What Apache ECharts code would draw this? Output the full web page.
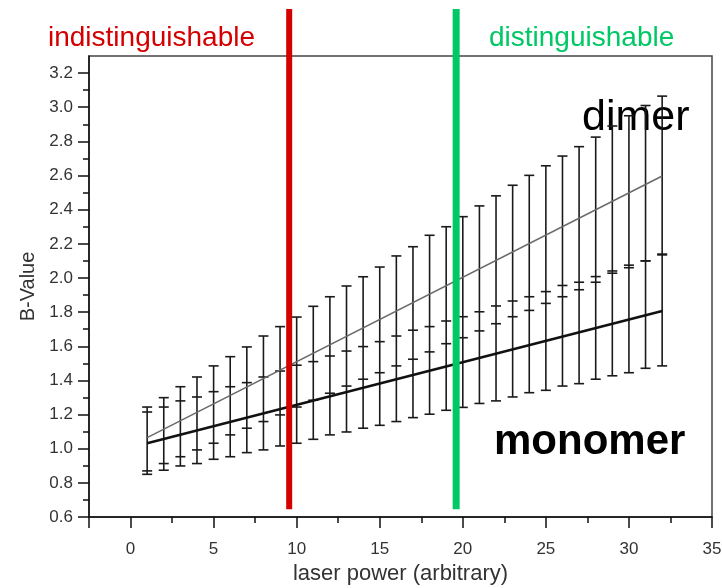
<!DOCTYPE html>
<html>
<head>
<meta charset="utf-8">
<script src="https://cdn.jsdelivr.net/npm/echarts@6/dist/echarts.min.js"></script>
<style>
  html, body { margin: 0; padding: 0; background: #fff; }
  #main { width: 722px; height: 588px; }
</style>
</head>
<body>
<div id="main"></div>
<script>
// laser power steps
var laserPower = [1, 2, 3, 4, 5, 6, 7, 8, 9, 10, 11, 12, 13, 14, 15, 16,
  17, 18, 19, 20, 21, 22, 23, 24, 25, 26, 27, 28, 29, 30, 31, 32];

// error bar ends
var dimerHigh = [1.244, 1.299, 1.363, 1.420, 1.485, 1.539, 1.596, 1.660, 1.715, 1.771, 1.834, 1.890,
  1.953, 2.007, 2.064, 2.129, 2.183, 2.250, 2.300, 2.359, 2.422, 2.481, 2.543, 2.601,
  2.657, 2.714, 2.769, 2.825, 2.890, 2.950, 3.010, 3.065];
var dimerLow = [0.870, 0.913, 0.953, 0.993, 1.032, 1.081, 1.120, 1.159, 1.198, 1.244, 1.284, 1.325,
  1.367, 1.407, 1.445, 1.485, 1.524, 1.567, 1.615, 1.650, 1.690, 1.732, 1.773, 1.810,
  1.851, 1.890, 1.931, 1.975, 2.028, 2.060, 2.100, 2.140];
var monomerHigh = [1.215, 1.244, 1.280, 1.303, 1.334, 1.363, 1.387, 1.420, 1.455, 1.489, 1.510, 1.543,
  1.572, 1.598, 1.627, 1.660, 1.694, 1.715, 1.748, 1.773, 1.802, 1.836, 1.865, 1.890,
  1.920, 1.956, 1.975, 2.008, 2.041, 2.075, 2.100, 2.135];
var monomerLow = [0.850, 0.874, 0.899, 0.913, 0.938, 0.953, 0.977, 0.993, 1.016, 1.032, 1.055, 1.081,
  1.098, 1.120, 1.137, 1.159, 1.182, 1.202, 1.225, 1.242, 1.265, 1.280, 1.303, 1.328,
  1.342, 1.367, 1.381, 1.407, 1.427, 1.445, 1.471, 1.485];

// fitted lines (start / end)
var dimerFit = [[1, 1.065], [32, 2.597]];
var monomerFit = [[1, 1.032], [32, 1.807]];

// threshold markers
var indistinguishableX = 9.55;
var distinguishableX = 19.6;
var markerRange = [0.645, 3.575];

var yTickValues = [0.6, 0.8, 1.0, 1.2, 1.4, 1.6, 1.8, 2.0, 2.2, 2.4, 2.6, 2.8, 3.0, 3.2];
var xTickValues = [-2.5, 0, 5, 10, 15, 20, 25, 30, 35];
var xLabelValues = [0, 5, 10, 15, 20, 25, 30, 35];

var chart = echarts.init(document.getElementById('main'), null, { renderer: 'canvas' });

var errorData = laserPower.map(function (x, i) {
  return [x, dimerHigh[i], dimerLow[i], monomerHigh[i], monomerLow[i]];
});

function renderErrorBar(params, api) {
  var x = api.value(0);
  var vals = [api.value(1), api.value(2), api.value(3), api.value(4)];
  var top = api.coord([x, Math.max.apply(null, vals)]);
  var bot = api.coord([x, Math.min.apply(null, vals)]);
  var st = { stroke: '#1a1a1a', lineWidth: 1.6 };
  var children = [{
    type: 'line',
    shape: { x1: top[0], y1: top[1], x2: bot[0], y2: bot[1] },
    style: st
  }];
  vals.forEach(function (v) {
    var p = api.coord([x, v]);
    children.push({
      type: 'line',
      shape: { x1: p[0] - 5, y1: p[1], x2: p[0] + 5, y2: p[1] },
      style: st
    });
  });
  return { type: 'group', children: children };
}

var font = 'Liberation Sans, Arial, sans-serif';

var option = {
  animation: false,
  textStyle: { fontFamily: font },
  grid: {
    left: 89, right: 10, top: 56, bottom: 71,
    outerBoundsMode: 'none',
    containLabel: false,
    show: true,
    borderColor: '#444',
    borderWidth: 1.5
  },
  xAxis: {
    type: 'value',
    min: -2.5,
    max: 35,
    splitNumber: 8,
    name: 'laser power (arbitrary)',
    nameLocation: 'middle',
    nameGap: 46,
    nameTextStyle: { fontSize: 22, color: '#333', fontFamily: font },
    axisLine: { onZero: false, lineStyle: { color: '#111', width: 1.5 } },
    axisTick: { length: 11, lineStyle: { color: '#111', width: 1.5 }, customValues: xTickValues },
    minorTick: { show: true, splitNumber: 2, length: 6, lineStyle: { color: '#111', width: 1.5 } },
    axisLabel: {
      customValues: xLabelValues,
      fontSize: 17, color: '#333', margin: 24, fontFamily: font,
      formatter: function (v) { return String(v); }
    },
    splitLine: { show: false }
  },
  yAxis: {
    type: 'value',
    min: 0.6,
    max: 3.3,
    splitNumber: 13,
    name: 'B-Value',
    nameLocation: 'middle',
    nameGap: 51,
    nameTextStyle: { fontSize: 20, color: '#333', fontFamily: font },
    axisLine: { onZero: false, lineStyle: { color: '#111', width: 1.5 } },
    axisTick: { length: 11, lineStyle: { color: '#111', width: 1.5 }, customValues: yTickValues },
    minorTick: { show: true, splitNumber: 2, length: 6, lineStyle: { color: '#111', width: 1.5 } },
    axisLabel: {
      customValues: yTickValues,
      fontSize: 17, color: '#333', margin: 16, fontFamily: font,
      formatter: function (v) { return v.toFixed(1); }
    },
    splitLine: { show: false }
  },
  graphic: [
    { type: 'text', z: 0, left: 48, top: 24,
      style: { text: 'indistinguishable', fill: '#d40000', font: '28px ' + font } },
    { type: 'text', z: 0, left: 489, top: 24,
      style: { text: 'distinguishable', fill: '#00c864', font: '28px ' + font } },
    { type: 'text', z: 0, left: 582, top: 97,
      style: { text: 'dimer', fill: '#000', font: '43px ' + font } },
    { type: 'text', z: 0, left: 494, top: 421,
      style: { text: 'monomer', fill: '#000', font: 'bold 42px ' + font } }
  ],
  series: [
    {
      name: 'error',
      type: 'custom',
      renderItem: renderErrorBar,
      data: errorData,
      encode: { x: 0, y: [1, 2, 3, 4] },
      z: 3
    },
    {
      name: 'dimer',
      type: 'line',
      data: dimerFit,
      symbol: 'none',
      lineStyle: { color: '#6a6a6a', width: 1.5 },
      z: 4
    },
    {
      name: 'monomer',
      type: 'line',
      data: monomerFit,
      symbol: 'none',
      lineStyle: { color: '#111', width: 2.5 },
      z: 4
    },
    {
      name: 'indistinguishable',
      type: 'line',
      data: [[indistinguishableX, markerRange[0]], [indistinguishableX, markerRange[1]]],
      symbol: 'none',
      clip: false,
      lineStyle: { color: '#d40000', width: 6, cap: 'butt' },
      z: 6
    },
    {
      name: 'distinguishable',
      type: 'line',
      data: [[distinguishableX, markerRange[0]], [distinguishableX, markerRange[1]]],
      symbol: 'none',
      clip: false,
      lineStyle: { color: '#00c864', width: 7, cap: 'butt' },
      z: 6
    }
  ]
};

chart.setOption(option);
</script>
</body>
</html>
